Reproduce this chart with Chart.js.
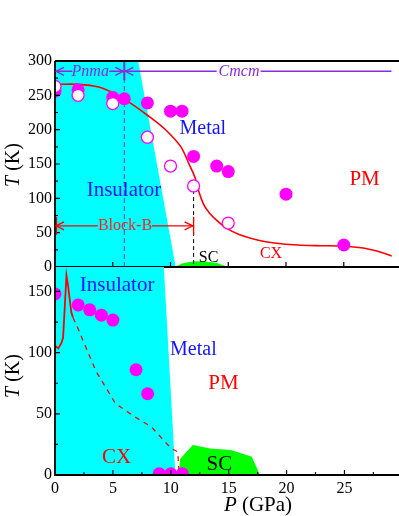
<!DOCTYPE html>
<html><head><meta charset="utf-8">
<script src="https://cdn.jsdelivr.net/npm/chart.js@4/dist/chart.umd.min.js"></script>
<style>
html,body{margin:0;padding:0;background:#fff;overflow:hidden}
#wrap{position:relative;width:399px;height:516px}
canvas{position:absolute;left:0;top:0}
</style></head><body>
<div id="wrap"><canvas id="c1" width="399" height="516"></canvas><canvas id="c2" width="399" height="516"></canvas></div>
<script>
// ---------- axes ----------
const xTicks = [0, 5, 10, 15, 20, 25];
const xMinor = [2.5, 7.5, 12.5, 17.5, 22.5, 27.5];
const topYTicks = [0, 50, 100, 150, 200, 250, 300];
const topYMinor = [25, 75, 125, 175, 225, 275];
const botYTicks = [0, 50, 100, 150];
const botYMinor = [25, 75, 125];

// ---------- top panel data (P in GPa, T in K) ----------
const topInsulatorRegion = [[0,0],[0,300],[7.2,300],[10.45,0]];
const topSCRegion = [[10.4,0],[11,5],[12,8.5],[13,8],[14,6],[15,0]];
const topCXCurve = [[0,266],[2,266],[3.8,262],[5.2,252],[6.6,238],[8.0,221],[9.5,201],[10.9,175],[11.6,150],[12.15,129],[12.45,110],[12.9,90],[13.4,78],[14.0,68],[14.8,57],[16,47],[17.6,39],[19,35],[21,32],[23,31],[24.7,30.5],[26.5,28],[27.5,24.7],[28.3,21],[29.2,16]];
const topFilledP = [0, 2, 5, 6, 8, 10, 11, 12, 14, 15, 20, 25];
const topFilledT = [256, 258, 247, 245, 239, 227, 227, 161, 147, 139, 106, 32];
const topOpenP = [0, 2, 5, 8, 10, 12, 15];
const topOpenT = [263, 250, 238, 189, 147, 118, 64];
const pnmaCmcmBoundary = 6;      // GPa
const structureT = 285;          // K, level of Pnma / Cmcm arrows
const blockBEnd = 12;            // GPa
const blockBT = 60;              // K
const blockBDashTop = 112;       // K

// ---------- bottom panel data ----------
const botInsulatorRegion = [[0,0],[0,170],[9.4,170],[10.4,0]];
const botSCRegion = [[10.7,0],[10.8,13],[11.9,24.5],[13.4,21.7],[15.2,20.5],[17.0,15],[17.7,0]];
const botCXSolid = [[0,105.7],[0.28,103.5],[0.56,108],[0.7,112.4],[0.99,163],[1.13,154.5],[1.41,133],[1.55,128.7]];
const botCXDashed = [[1.55,128.7],[1.84,123],[3.53,85],[5.23,58.3],[6.92,47.4],[8.33,39.3],[10.03,21.7],[10.6,19],[10.7,4]];
const botFilledP = [0, 2, 3, 4, 5, 7, 8, 9, 10, 11];
const botFilledT = [148, 139, 135, 130.6, 126.6, 86, 66.4, 1, 1, 1];

// ---------- labels ----------
const topLabels = [
  ['Metal', 12.8, 201, '#1414ff', 20, ''],
  ['Insulator', 5.97, 112, '#1414ff', 21, ''],
  ['PM', 26.8, 128, '#ff0000', 21, ''],
  ['SC', 13.3, 13, '#000000', 16, ''],
  ['CX', 18.7, 19, '#ff0000', 16, ''],
  ['Block-B', 6.06, 60, '#ff2020', 16, ''],
  ['Pnma', 3.05, 285, '#8a2be2', 16, 'italic '],
  ['Cmcm', 15.93, 285, '#8a2be2', 16, 'italic ']
];
const botLabels = [
  ['Insulator', 5.36, 155, '#1414ff', 21, ''],
  ['Metal', 11.95, 102, '#1414ff', 20, ''],
  ['PM', 14.55, 74.5, '#ff0000', 21, ''],
  ['CX', 5.31, 14, '#ff0000', 21, ''],
  ['SC', 14.2, 8.2, '#000000', 21, '']
];

const FONT = "'Liberation Serif','Times New Roman',serif";
Chart.defaults.font.family = FONT;
Chart.defaults.color = '#000';

const pts = a => a.map(p => ({x: p[0], y: p[1]}));
const zipPts = (xs, ys) => xs.map((v, i) => ({x: v, y: ys[i]}));
const PURPLE = '#8a2be2';

function lineDS(data, color, width, dash, tension) {
  return {data, showLine: true, borderColor: color, borderWidth: width, borderDash: dash || [], pointRadius: 0, tension: tension || 0, fill: false};
}
function fillDS(data, color) {
  return {data, showLine: true, borderWidth: 0, borderColor: color, backgroundColor: color, pointRadius: 0, fill: 'origin'};
}

function drawArrow(ctx, x, y, dir, color) {
  ctx.strokeStyle = color; ctx.lineWidth = 1.3;
  ctx.beginPath();
  ctx.moveTo(x + dir * 8, y - 4); ctx.lineTo(x, y); ctx.lineTo(x + dir * 8, y + 4);
  ctx.stroke();
}

function mixedTitle(ctx, parts, cx, cy, rot, size) {
  ctx.save();
  ctx.translate(cx, cy); ctx.rotate(rot);
  let total = 0;
  const w = parts.map(p => { ctx.font = p[1] + size + 'px ' + FONT; const m = ctx.measureText(p[0]).width; total += m; return m; });
  let xx = -total / 2;
  ctx.textBaseline = 'middle'; ctx.textAlign = 'left'; ctx.fillStyle = '#000';
  parts.forEach((p, i) => { ctx.font = p[1] + size + 'px ' + FONT; ctx.fillText(p[0], xx, 0); xx += w[i]; });
  ctx.restore();
}

const deco = {
  id: 'deco',
  afterDatasetsDraw(chart, args, o) {
    const {ctx, chartArea: a, scales: {x, y}} = chart;
    const px = v => x.getPixelForValue(v), py = v => y.getPixelForValue(v);
    ctx.save();
    // frame
    ctx.strokeStyle = '#000'; ctx.lineWidth = 1.8;
    ctx.beginPath();
    if (o.isTop) { ctx.moveTo(a.left, a.top); ctx.lineTo(399, a.top); }
    ctx.moveTo(a.left, a.top); ctx.lineTo(a.left, a.bottom); ctx.lineTo(399, a.bottom);
    ctx.stroke();
    // inward ticks
    ctx.lineWidth = 1.2; ctx.beginPath();
    o.yMajor.forEach(v => { ctx.moveTo(a.left, py(v)); ctx.lineTo(a.left + 5, py(v)); });
    o.yMinor.forEach(v => { ctx.moveTo(a.left, py(v)); ctx.lineTo(a.left + 3, py(v)); });
    o.xMajor.forEach(v => { if (v > 0) { ctx.moveTo(px(v), a.bottom); ctx.lineTo(px(v), a.bottom - 5); } });
    o.xMinor.forEach(v => { ctx.moveTo(px(v), a.bottom); ctx.lineTo(px(v), a.bottom - 3); });
    ctx.stroke();
    if (o.isTop) {
      // structure arrows
      const ys = py(structureT);
      drawArrow(ctx, px(0) + 1, ys, 1, PURPLE);
      drawArrow(ctx, px(pnmaCmcmBoundary) - 1, ys, -1, PURPLE);
      drawArrow(ctx, px(pnmaCmcmBoundary) + 1, ys, 1, PURPLE);
      ctx.strokeStyle = PURPLE; ctx.lineWidth = 2;
      ctx.beginPath(); ctx.moveTo(px(pnmaCmcmBoundary), py(structureT + 13)); ctx.lineTo(px(pnmaCmcmBoundary), py(structureT - 13)); ctx.stroke();
      // Block-B arrows
      const yb = py(blockBT);
      drawArrow(ctx, px(0) + 1, yb, 1, '#ff0000');
      drawArrow(ctx, px(blockBEnd) - 1, yb, -1, '#ff0000');
      ctx.strokeStyle = '#ff0000'; ctx.lineWidth = 1.3;
      ctx.beginPath();
      ctx.moveTo(px(0) + 1.5, py(blockBT + 13)); ctx.lineTo(px(0) + 1.5, py(blockBT - 13));
      ctx.moveTo(px(blockBEnd), py(blockBT + 13)); ctx.lineTo(px(blockBEnd), py(blockBT - 13));
      ctx.stroke();
    }
    // labels
    ctx.textAlign = 'center'; ctx.textBaseline = 'middle';
    o.labels.forEach(t => { ctx.font = t[5] + t[4] + 'px ' + FONT; ctx.fillStyle = t[3]; ctx.fillText(t[0], px(t[1]), py(t[2])); });
    // axis titles
    mixedTitle(ctx, [['T', 'italic '], [' (K)', '']], 14, o.isTop ? 165 : 376, -Math.PI / 2, 20);
    if (!o.isTop) mixedTitle(ctx, [['P', 'italic '], [' (GPa)', '']], 258, 505, 0, 21);
    ctx.restore();
  }
};

function makeOpts(isTop) {
  return {
    responsive: false, animation: false, devicePixelRatio: 1,
    layout: {padding: isTop ? {top: 61, bottom: 249, left: 0, right: 0} : {top: 267, bottom: 0, left: 0, right: 0}},
    plugins: {
      legend: {display: false}, tooltip: {enabled: false},
      deco: {isTop, yMajor: isTop ? topYTicks : botYTicks, yMinor: isTop ? topYMinor : botYMinor,
             xMajor: xTicks, xMinor: isTop ? [] : xMinor, labels: isTop ? topLabels : botLabels}
    },
    scales: {
      x: {type: 'linear', min: 0, max: 29.15, position: 'bottom',
          grid: {display: false, drawTicks: false}, border: {display: false},
          ticks: {display: !isTop, font: {size: 16}, color: '#000', padding: 4, autoSkip: false, maxRotation: 0},
          afterBuildTicks: s => { s.ticks = xTicks.map(v => ({value: v})); },
          afterFit: s => { s.height = isTop ? 0 : 41; }},
      y: {type: 'linear', min: 0, max: isTop ? 300 : 170,
          grid: {display: false, drawTicks: false}, border: {display: false},
          ticks: {font: {size: 16}, color: '#000', padding: 3},
          afterBuildTicks: s => { s.ticks = (isTop ? topYTicks : botYTicks).map(v => ({value: v})); },
          afterFit: s => { s.width = 55; }}
    }
  };
}

new Chart(document.getElementById('c1'), {
  type: 'scatter',
  data: {datasets: [
    {data: zipPts(topOpenP, topOpenT), pointRadius: 6, pointBackgroundColor: '#fff', pointBorderColor: '#ff00ff', pointBorderWidth: 1.3},
    {data: zipPts(topFilledP, topFilledT), pointRadius: 6.5, pointBackgroundColor: '#ff00ff', pointBorderColor: '#ff00ff', pointBorderWidth: 0},
    lineDS(pts(topCXCurve), '#ff0000', 1.6, [], 0.3),
    lineDS([{x:0,y:blockBT},{x:3.7,y:blockBT},{x:3.7,y:null},{x:8.4,y:blockBT},{x:blockBEnd,y:blockBT}], '#ff0000', 1.3),
    lineDS([{x:0,y:structureT},{x:1.5,y:structureT},{x:1.5,y:null},{x:4.7,y:structureT},{x:pnmaCmcmBoundary,y:structureT},{x:pnmaCmcmBoundary,y:null},{x:pnmaCmcmBoundary,y:structureT},{x:14.0,y:structureT},{x:14.0,y:null},{x:17.8,y:structureT},{x:29.15,y:structureT}], PURPLE, 1.5),
    lineDS([{x:pnmaCmcmBoundary,y:0},{x:pnmaCmcmBoundary,y:300}], PURPLE, 1, [5,3]),
    lineDS([{x:blockBEnd,y:blockBDashTop},{x:blockBEnd,y:0}], '#000', 1, [4,3]),
    fillDS(pts(topSCRegion), '#00ff00'),
    fillDS(pts(topInsulatorRegion), '#00ffff')
  ]},
  options: makeOpts(true),
  plugins: [deco]
});

new Chart(document.getElementById('c2'), {
  type: 'scatter',
  data: {datasets: [
    {data: zipPts(botFilledP, botFilledT), pointRadius: 6.5, pointBackgroundColor: '#ff00ff', pointBorderColor: '#ff00ff', pointBorderWidth: 0},
    lineDS(pts(botCXSolid), '#ff0000', 1.8),
    lineDS(pts(botCXDashed), '#ff0000', 1.3, [5,5]),
    fillDS(pts(botSCRegion), '#00ff00'),
    fillDS(pts(botInsulatorRegion), '#00ffff')
  ]},
  options: makeOpts(false),
  plugins: [deco]
});
</script>
</body></html>
